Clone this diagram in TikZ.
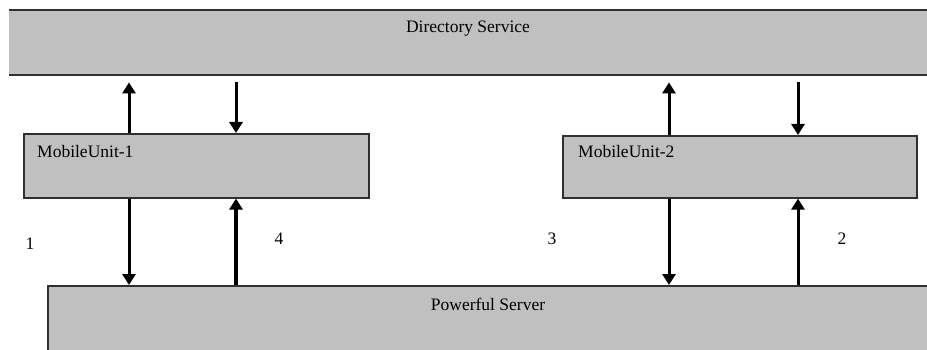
\documentclass[tikz,border=0pt]{standalone}
\usepackage{fontspec}
\setmainfont{Liberation Serif}
\usetikzlibrary{arrows.meta,calc}
\definecolor{boxgray}{HTML}{C0C0C0}
\definecolor{edgegray}{HTML}{303030}
\begin{document}
\begin{tikzpicture}[x=1pt,y=-1pt,
  unitbox/.style={draw=edgegray, fill=boxgray, line width=1.6pt, inner sep=0pt, anchor=north west},
  flow/.style={line width=3pt, -{Triangle[length=11pt,width=13pt]}},
  heavyflow/.style={flow, line width=4pt},
  txt/.style={font=\fontsize{17.5}{17.5}\selectfont, inner sep=0pt},
  num/.style={font=\fontsize{17.5}{17.5}\selectfont, inner sep=0pt}]
\useasboundingbox (0,0) rectangle (927,350);
\clip (0,0) rectangle (927,350);

% Directory service band (top and bottom rules only)
\node[fill=boxgray, inner sep=0pt, minimum width=930pt, minimum height=65pt, anchor=north west] (ds) at (9,10) {};
\draw[edgegray, line width=2pt] (ds.north west) -- (ds.north east);
\draw[edgegray, line width=2pt] (ds.south west) -- (ds.south east);
\node[txt] (dstext) at (468,29) {Directory Service};

% Mobile units
\node[unitbox, minimum width=345pt, minimum height=64pt] (mu1) at (23,133) {};
\node[txt, anchor=west] (mu1text) at (37,152) {MobileUnit-1};
\node[unitbox, minimum width=354pt, minimum height=62pt] (mu2) at (562,135) {};
\node[txt, anchor=west] (mu2text) at (578,152) {MobileUnit-2};

% Server band
\node[unitbox, minimum width=900pt, minimum height=90pt] (srv) at (47,285) {};
\node[txt] (srvtext) at (488,304) {Powerful Server};

% Arrow columns
\coordinate (c1) at (129,0);
\coordinate (c2) at (236,0);
\coordinate (c3) at (669,0);
\coordinate (c4) at (798,0);

% Between mobile units and directory service
\draw[flow] (mu1.north -| c1) -- ([yshift=-7pt]ds.south -| c1);
\draw[flow] ([yshift=-7pt]ds.south -| c2) -- (mu1.north -| c2);
\draw[flow] (mu2.north -| c3) -- ([yshift=-7pt]ds.south -| c3);
\draw[flow] ([yshift=-7pt]ds.south -| c4) -- (mu2.north -| c4);

% Between mobile units and server
\draw[flow] (mu1.south -| c1) -- (srv.north -| c1);
\draw[heavyflow] (srv.north -| c2) -- (mu1.south -| c2);
\draw[flow] (mu2.south -| c3) -- (srv.north -| c3);
\draw[flow] (srv.north -| c4) -- (mu2.south -| c4);

% Step numbers
\node[num] (n1) at (30,244) {1};
\node[num] (n4) at (279,239) {4};
\node[num] (n3) at (552,239) {3};
\node[num] (n2) at (842,239) {2};
\end{tikzpicture}
\end{document}
